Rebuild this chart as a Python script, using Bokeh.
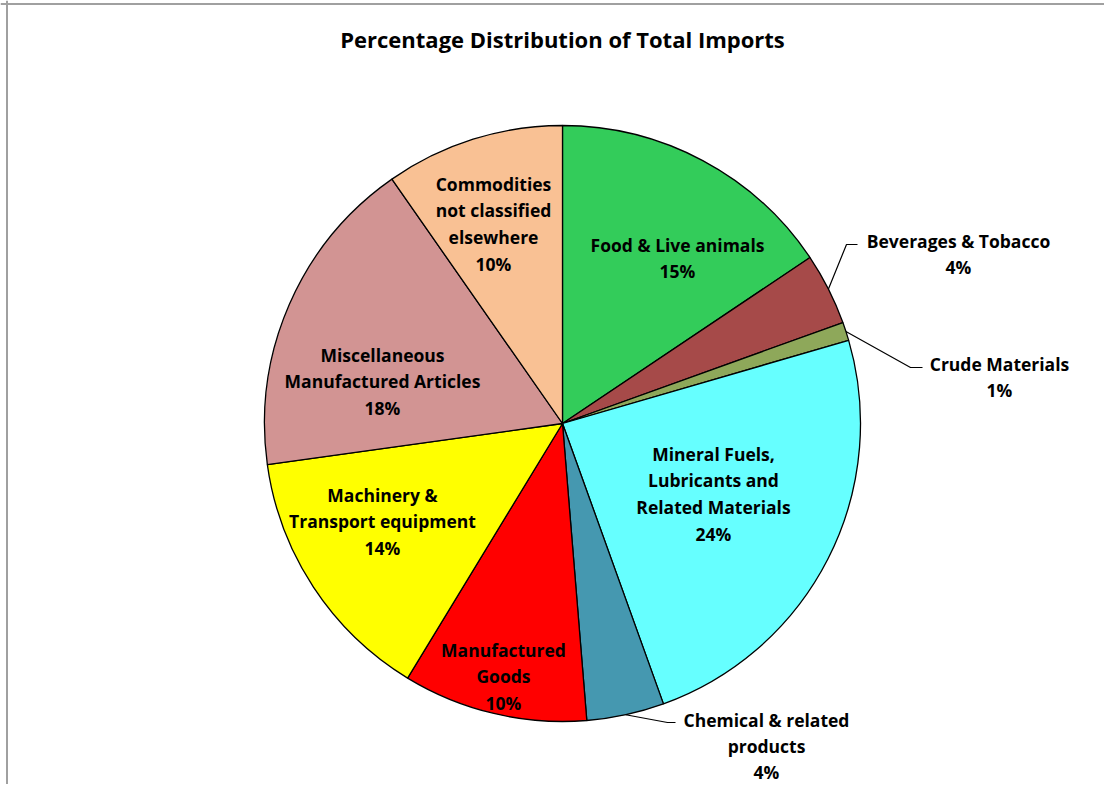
import numpy as np
from bokeh.plotting import figure
from bokeh.models import Range1d, Span, ColumnDataSource
from bokeh.core.properties import value
from bokeh.embed import file_html
from bokeh.resources import INLINE

# ---- data ----
categories = ["Food & Live animals", "Beverages & Tobacco", "Crude Materials",
              "Mineral Fuels, Lubricants and Related Materials",
              "Chemical & related products", "Manufactured Goods",
              "Machinery & Transport equipment",
              "Miscellaneous Manufactured Articles",
              "Commodities not classified elsewhere"]
shares = [15.6, 3.9, 1.0, 24.0, 4.2, 10.0, 14.1, 17.5, 9.7]
pct_labels = ["15%", "4%", "1%", "24%", "4%", "10%", "14%", "18%", "10%"]
label_lines = [["Food & Live animals"], ["Beverages & Tobacco"], ["Crude Materials"],
               ["Mineral Fuels,", "Lubricants and", "Related Materials"],
               ["Chemical & related", "products"], ["Manufactured", "Goods"],
               ["Machinery &", "Transport equipment"],
               ["Miscellaneous", "Manufactured Articles"],
               ["Commodities", "not classified", "elsewhere"]]
colors = ["#33CC5A", "#A64A49", "#8EA85A", "#66FFFF", "#4598B0",
          "#FF0000", "#FFFF00", "#D29493", "#F9C194"]

# ---- layout (pixel positions in the picture) ----
W, H = 1104, 784
CX, CY, R = 562, 423, 298
label_pos = [(677, 244), (958, 240), (999, 363), (713, 453), (766, 719),
             (503, 649), (382, 494), (382, 354), (493, 183)]
line_h = [26.8, 26.8, 26.8, 26.8, 26.0, 26.8, 26.8, 26.8, 26.8]
outside = {1: ((846, 244), (857, 244)), 2: ((910, 367), (922, 367)),
           4: ((667, 722), (675, 722))}
FONT = "Open Sans"


def sy(y):
    return H - y


p = figure(width=W, height=H, output_backend="svg", toolbar_location=None,
           x_range=Range1d(0, W), y_range=Range1d(0, H), min_border=0)
p.axis.visible = False
p.grid.visible = False
p.outline_line_color = None
p.background_fill_color = "white"
p.border_fill_color = "white"

# frame lines (left and top)
p.add_layout(Span(location=6.5, dimension="height", line_color="#A0A0A0", line_width=2))
p.add_layout(Span(location=sy(3.5), dimension="width", line_color="#A0A0A0", line_width=2))

total = float(sum(shares))
frac = np.array(shares) / total
cum = np.concatenate([[0], np.cumsum(frac)])
start = np.pi / 2 - 2 * np.pi * cum[1:]
end = np.pi / 2 - 2 * np.pi * cum[:-1]

src = ColumnDataSource(dict(cat=categories, start=start, end=end, color=colors))
p.wedge(x=CX, y=sy(CY), radius=R, start_angle="start", end_angle="end",
        fill_color="color", line_color="black", line_width=1.3, source=src)

# leader lines
for i, (elbow, tip) in outside.items():
    mid = 2 * np.pi * (cum[i] + cum[i + 1]) / 2
    ex = CX + R * np.sin(mid)
    ey = CY - R * np.cos(mid)
    p.line([ex, elbow[0], tip[0]], [sy(ey), sy(elbow[1]), sy(tip[1])],
           line_color="black", line_width=1.2)

# labels
tx, ty, tt = [], [], []
for i, lines in enumerate(label_lines):
    x0, y0 = label_pos[i]
    for k, t in enumerate(lines + [pct_labels[i]]):
        tx.append(x0)
        ty.append(sy(y0 + k * line_h[i]))
        tt.append(t)
p.text(x=tx, y=ty, text=tt, text_font=value(FONT), text_font_style="bold",
       text_font_size="17.5px", text_align="center", text_baseline="middle",
       text_color="black")

# title
p.text(x=[562], y=[sy(38)], text=["Percentage Distribution of Total Imports"],
       text_font=value(FONT), text_font_style="bold", text_font_size="22px",
       text_align="center", text_baseline="middle", text_color="black")

open("out.html", "w").write(file_html(p, INLINE))
